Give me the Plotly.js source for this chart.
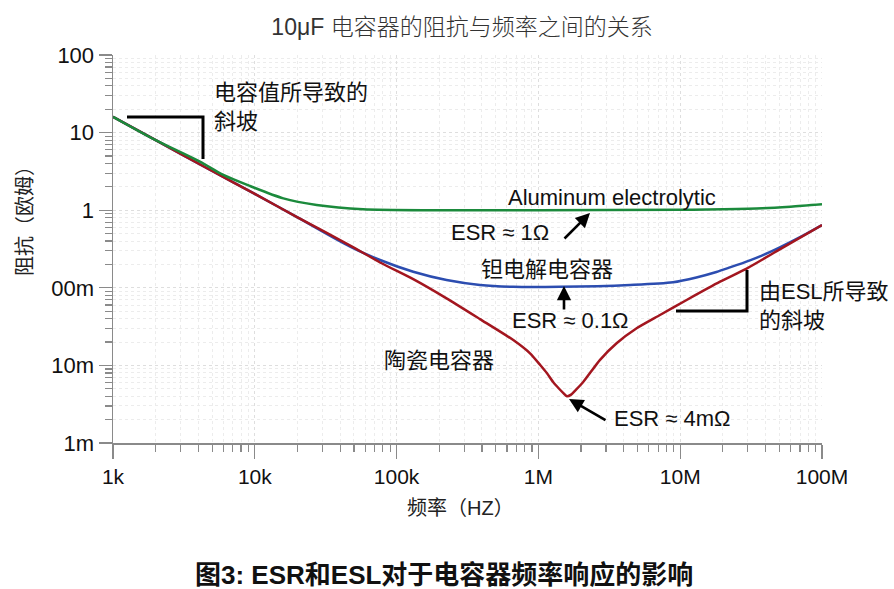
<!DOCTYPE html>
<html>
<head>
<meta charset="utf-8">
<script src="https://cdn.plot.ly/plotly-3.0.1.min.js"></script>
<style>html,body{margin:0;padding:0;background:#fff;}#chart{width:894px;height:589px;}</style>
</head>
<body>
<div id="chart"></div>
<script>
// ---- data ----
const xTickVals = [1e3, 1e4, 1e5, 1e6, 1e7, 1e8];
const xTickText = ["1k", "10k", "100k", "1M", "10M", "100M"];
const yTickVals = [0.001, 0.01, 0.1, 1, 10, 100];
const yTickText = ["1m", "10m", "00m", "1", "10", "100"];

const tantalumFreq = [1e3, 2e3, 5e3, 1e4, 2e4, 4.7e4, 7.64e4, 1.31e5, 2.25e5, 3.87e5, 6.65e5, 1.42e6, 4.43e6, 8.9e6, 1.3e7, 1.8e7, 2.24e7, 3.1e7, 3.8e7, 5e7, 7e7, 1e8];
const tantalumZ    = [16.0, 8.0, 3.2, 1.62, 0.81, 0.34, 0.228, 0.161, 0.126, 0.109, 0.103, 0.103, 0.109, 0.118, 0.136, 0.16, 0.183, 0.226, 0.262, 0.33, 0.45, 0.645];

const ceramicFreq = [1e3, 2e3, 5e3, 1e4, 2e4, 5e4, 7.64e4, 1.31e5, 2.25e5, 3.87e5, 6.65e5, 8.73e5, 1.03e6, 1.15e6, 1.27e6, 1.4e6, 1.5e6, 1.59e6, 1.7e6, 1.81e6, 2.07e6, 2.72e6, 3.56e6, 4.93e6, 7.2e6, 1.11e7, 1.91e7, 2.94e7, 5e7, 1e8];
const ceramicZ    = [16.0, 8.0, 3.2, 1.62, 0.81, 0.33, 0.212, 0.129, 0.073, 0.0395, 0.0212, 0.0143, 0.0101, 0.0079, 0.0061, 0.0050, 0.0044, 0.0040, 0.0042, 0.0047, 0.0061, 0.0118, 0.0193, 0.0301, 0.0446, 0.0697, 0.120, 0.177, 0.31, 0.645];

const aluminumFreq = [1e3, 2e3, 4.1e3, 6e3, 9.25e3, 1.59e4, 2.73e4, 5.8e4, 1.92e5, 1e6, 1e7, 2e7, 3.8e7, 6e7, 1e8];
const aluminumZ    = [16.0, 8.0, 4.22, 2.85, 2.05, 1.42, 1.17, 1.03, 1.0, 1.0, 1.01, 1.03, 1.06, 1.11, 1.19];

// ---- layout helpers (pixel -> paper) ----
const L = 113, R = 822, T = 55, B = 443;
const W = 894, H = 589;
const px = x => (x - L) / (R - L);
const py = y => (B - y) / (B - T);

const latin = "Liberation Sans, Arial, Noto Sans CJK SC, sans-serif";
const cjk = "Liberation Sans, Noto Sans CJK SC, sans-serif";

const traces = [
  {x: tantalumFreq, y: tantalumZ, mode: "lines", line: {color: "#2c4db0", width: 2.5, shape: "spline", smoothing: 0.8}, name: "钽电解电容器"},
  {x: ceramicFreq, y: ceramicZ, mode: "lines", line: {color: "#a3161f", width: 2.5, shape: "spline", smoothing: 0.6}, name: "陶瓷电容器"},
  {x: aluminumFreq, y: aluminumZ, mode: "lines", line: {color: "#1b8a3c", width: 2.5, shape: "spline", smoothing: 0.8}, name: "Aluminum electrolytic"}
];

function txt(text, x, y, size, opts) {
  return Object.assign({
    text: text, xref: "paper", yref: "paper", x: px(x), y: py(y),
    xanchor: "center", yanchor: "middle", showarrow: false,
    font: {family: cjk, size: size, color: "#111"}
  }, opts || {});
}
function arrow(hx, hy, tx, ty) {
  return {
    text: "", xref: "paper", yref: "paper", x: px(hx), y: py(hy),
    ax: tx - hx, ay: ty - hy, axref: "pixel", ayref: "pixel",
    showarrow: true, arrowhead: 2, arrowsize: 1.1, arrowwidth: 2.6, arrowcolor: "#000",
    standoff: 0, startstandoff: 0
  };
}

const annotations = [
  txt("电容值所导致的<br>斜坡", 212, 107, 22, {xanchor: "left", align: "left"}),
  txt("Aluminum electrolytic", 611.5, 197, 22, {font: {family: latin, size: 22, color: "#111"}}),
  txt("ESR ≈ 1Ω", 500, 232, 22, {font: {family: latin, size: 22, color: "#111"}}),
  txt("钽电解电容器", 546.5, 269, 22),
  txt("ESR ≈ 0.1Ω", 570, 320, 22, {font: {family: latin, size: 22, color: "#111"}}),
  txt("陶瓷电容器", 438.5, 360, 22),
  txt("ESR ≈ 4mΩ", 672.5, 418, 22, {font: {family: latin, size: 22, color: "#111"}}),
  txt("由ESL所导致<br>的斜坡", 757, 306, 22, {xanchor: "left", align: "left"}),
  arrow(590, 213, 563, 240),
  arrow(564, 286, 564, 311),
  arrow(569, 399, 607, 421),
  txt("频率（HZ）", 460, 508, 20, {font: {family: cjk, size: 20, color: "#222"}}),
  txt("阻抗（欧姆）", 25, 216, 20, {textangle: -90, font: {family: cjk, size: 20, color: "#222"}}),
  txt("<b>图3: ESR和ESL对于电容器频率响应的影响</b>", 443.5, 575, 26, {font: {family: cjk, size: 26, color: "#111", weight: 700}})
];

const shapes = [
  {type: "path", xref: "paper", yref: "paper",
   path: `M ${px(127)},${py(117)} L ${px(203)},${py(117)} L ${px(203)},${py(159)}`,
   line: {color: "#000", width: 3}},
  {type: "path", xref: "paper", yref: "paper",
   path: `M ${px(676)},${py(311)} L ${px(747)},${py(311)} L ${px(747)},${py(270)}`,
   line: {color: "#000", width: 3}}
];

const gridCol = "#dedede";
const minorGrid = "#ececec";
const layout = {
  width: W, height: H,
  margin: {l: L, r: W - R, t: T, b: H - B, pad: 0},
  paper_bgcolor: "#fff", plot_bgcolor: "#fff",
  showlegend: false,
  title: {
    text: "10μF 电容器的阻抗与频率之间的关系",
    x: 462 / W, xanchor: "center", y: 1 - 27 / H, yanchor: "middle",
    font: {family: "Liberation Sans, Noto Sans CJK SC, sans-serif", size: 23, color: "#333", weight: 300}
  },
  xaxis: {
    type: "log", range: [3, 8],
    tickmode: "array", tickvals: xTickVals, ticktext: xTickText,
    ticks: "outside", ticklen: 14, tickwidth: 1.2, tickcolor: "#8a8a8a",
    showline: true, linecolor: "#8a8a8a", linewidth: 1.5,
    showgrid: true, gridcolor: gridCol, griddash: "dot", gridwidth: 1,
    zeroline: false,
    tickfont: {family: latin, size: 21, color: "#111"},
    minor: {ticks: "outside", ticklen: 7, tickcolor: "#8a8a8a", dtick: "D1",
            showgrid: true, gridcolor: minorGrid, griddash: "dot"}
  },
  yaxis: {
    type: "log", range: [-3, 2],
    tickmode: "array", tickvals: yTickVals, ticktext: yTickText,
    ticks: "outside", ticklen: 13, tickwidth: 1.2, tickcolor: "#8a8a8a",
    showline: true, linecolor: "#8a8a8a", linewidth: 1.5,
    showgrid: true, gridcolor: gridCol, griddash: "dot", gridwidth: 1,
    zeroline: false,
    tickfont: {family: latin, size: 22, color: "#111"},
    minor: {ticks: "outside", ticklen: 7, tickcolor: "#8a8a8a", dtick: "D1",
            showgrid: true, gridcolor: minorGrid, griddash: "dot"}
  },
  annotations: annotations,
  shapes: shapes
};

Plotly.newPlot("chart", traces, layout, {staticPlot: true, displayModeBar: false});
</script>
</body>
</html>
